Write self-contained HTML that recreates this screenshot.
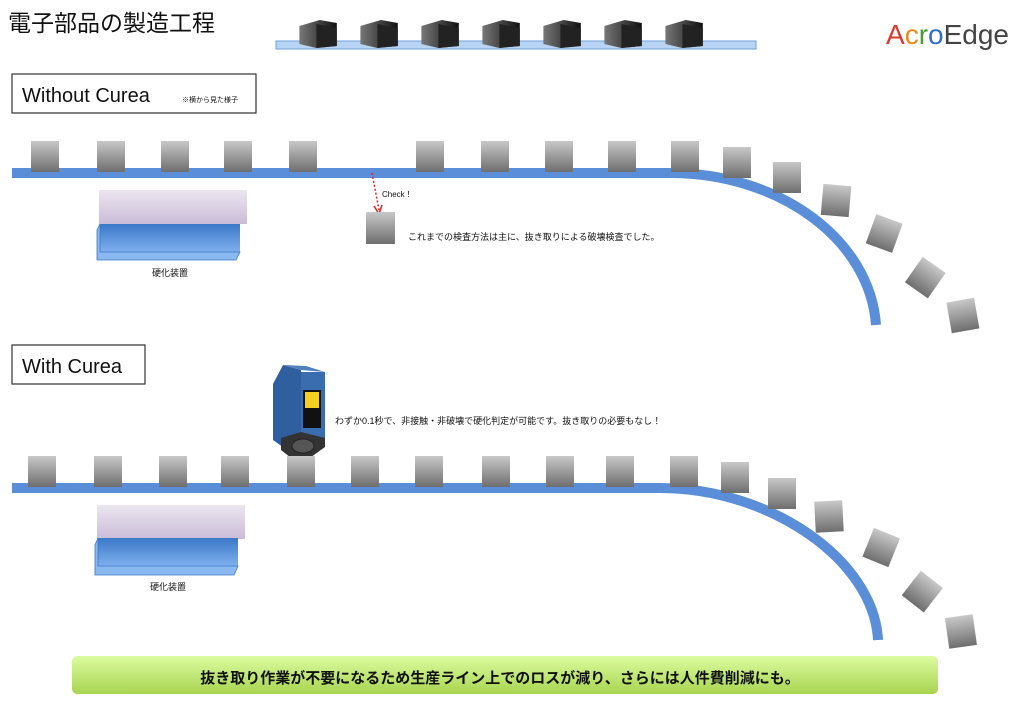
<!DOCTYPE html>
<html><head><meta charset="utf-8"><style>
body{margin:0;background:#fff}
svg{display:block}
text{font-family:"Liberation Sans","Noto Sans CJK JP",sans-serif;fill:#111}
</style></head><body>
<svg width="1024" height="717" viewBox="0 0 1024 717" xmlns="http://www.w3.org/2000/svg">
<defs>
<linearGradient id="chip" x1="0" y1="0" x2="0" y2="1"><stop offset="0" stop-color="#c8c8c8"/><stop offset="1" stop-color="#6e6e6e"/></linearGradient>
<linearGradient id="pur" x1="0" y1="0" x2="0" y2="1"><stop offset="0" stop-color="#ece6f0"/><stop offset="1" stop-color="#c9bcd8"/></linearGradient>
<linearGradient id="blu" x1="0" y1="0" x2="0" y2="1"><stop offset="0" stop-color="#3b78c8"/><stop offset="1" stop-color="#7fb0ee"/></linearGradient>
<linearGradient id="grn" x1="0" y1="0" x2="0" y2="1"><stop offset="0" stop-color="#dcfca0"/><stop offset="1" stop-color="#a8d450"/></linearGradient>
<linearGradient id="blk" x1="0" y1="0" x2="1" y2="0"><stop offset="0" stop-color="#777"/><stop offset="1" stop-color="#111"/></linearGradient>
<g id="c"><rect x="0" y="0" width="28" height="31" fill="url(#chip)"/></g>
<g id="bc"><path d="M2,6 L14,0 L24,3 L24,26 L12,28 L2,24Z" fill="url(#blk)"/><path d="M12,4 L24,8 L24,26 L12,28Z" fill="#222"/></g>
</defs>
<text x="8" y="31" font-size="23">電子部品の製造工程</text>
<rect x="276" y="41" width="480" height="8" fill="#b8d4f4" stroke="#6f9fd8"/>
<g transform="translate(296,20) scale(1.7,1)"><use href="#bc"/></g>
<g transform="translate(357,20) scale(1.7,1)"><use href="#bc"/></g>
<g transform="translate(418,20) scale(1.7,1)"><use href="#bc"/></g>
<g transform="translate(479,20) scale(1.7,1)"><use href="#bc"/></g>
<g transform="translate(540,20) scale(1.7,1)"><use href="#bc"/></g>
<g transform="translate(601,20) scale(1.7,1)"><use href="#bc"/></g>
<g transform="translate(662,20) scale(1.7,1)"><use href="#bc"/></g>
<text x="886" y="44" font-size="28"><tspan fill="#d93a2b">A</tspan><tspan fill="#e98a1a">c</tspan><tspan fill="#4a9a3a">r</tspan><tspan fill="#2f6fc0">o</tspan><tspan fill="#444">Edge</tspan></text>

<rect x="12" y="74" width="244" height="39" fill="#fff" stroke="#333" stroke-width="1.2"/>
<text x="22" y="102" font-size="20">Without Curea</text>
<text x="182" y="102" font-size="7">※横から見た様子</text>
<path d="M12,173 H670 C780,173 870,240 876,325" fill="none" stroke="#5b8ed8" stroke-width="10"/>
<g>
<use href="#c" x="31" y="141"/><use href="#c" x="97" y="141"/><use href="#c" x="161" y="141"/><use href="#c" x="224" y="141"/><use href="#c" x="289" y="141"/><use href="#c" x="416" y="141"/><use href="#c" x="481" y="141"/><use href="#c" x="545" y="141"/><use href="#c" x="608" y="141"/><use href="#c" x="671" y="141"/>
<use href="#c" x="723" y="147"/><use href="#c" x="773" y="162"/>
<g transform="translate(836,201) rotate(5)"><use href="#c" x="-14" y="-16"/></g>
<g transform="translate(884,234) rotate(20)"><use href="#c" x="-14" y="-16"/></g>
<g transform="translate(925,278) rotate(35)"><use href="#c" x="-14" y="-16"/></g>
<g transform="translate(963,316) rotate(-10)"><use href="#c" x="-14" y="-16"/></g>
</g>
<path d="M372,173 L379,210" stroke="#e02020" stroke-width="1.5" stroke-dasharray="2,2"/>
<path d="M374,206 L379,214 L382,205" fill="none" stroke="#e02020" stroke-width="1.5"/>
<text x="382" y="197" font-size="8">Check！</text>
<rect x="366" y="212" width="29" height="32" fill="url(#chip)"/>
<text x="408" y="240" font-size="9">これまでの検査方法は主に、抜き取りによる破壊検査でした。</text>
<rect x="99" y="190" width="148" height="34" fill="url(#pur)"/>
<rect x="100" y="224" width="140" height="28" fill="url(#blu)"/>
<path d="M100,224 L97,230 L97,260 L236,260 L240,252 L100,252Z" fill="#8ab8f0" stroke="#3b78c8" stroke-width="0.8"/>
<text x="152" y="276" font-size="9">硬化装置</text>

<rect x="12" y="345" width="133" height="39" fill="#fff" stroke="#333" stroke-width="1.2"/>
<text x="22" y="373" font-size="20">With Curea</text>
<g>
<path d="M273,384 L283,365 L301,370 L301,445 L290,452 L273,440Z" fill="#2f5f9e"/>
<path d="M283,365 L301,370 L325,372 L306,366Z" fill="#4f80c0"/>
<rect x="301" y="372" width="24" height="66" fill="#3a6db0"/>
<rect x="303" y="390" width="18" height="38" fill="#111"/>
<path d="M305,392 L319,392 L319,408 L305,408Z" fill="#f4d020"/>
<path d="M281,438 L301,432 L325,438 L325,447 L300,465 L281,450Z" fill="#333"/>
<ellipse cx="303" cy="446" rx="11" ry="7" fill="#555" stroke="#222"/>
</g>
<text x="335" y="424" font-size="9">わずか0.1秒で、非接触・非破壊で硬化判定が可能です。抜き取りの必要もなし！</text>
<path d="M12,488 H660 C770,488 874,560 878,640" fill="none" stroke="#5b8ed8" stroke-width="10"/>
<g>
<use href="#c" x="28" y="456"/><use href="#c" x="94" y="456"/><use href="#c" x="159" y="456"/><use href="#c" x="221" y="456"/><use href="#c" x="287" y="456"/><use href="#c" x="351" y="456"/><use href="#c" x="415" y="456"/><use href="#c" x="482" y="456"/><use href="#c" x="546" y="456"/><use href="#c" x="606" y="456"/><use href="#c" x="670" y="456"/>
<use href="#c" x="721" y="462"/><use href="#c" x="768" y="478"/>
<g transform="translate(829,517) rotate(-3)"><use href="#c" x="-14" y="-16"/></g>
<g transform="translate(881,548) rotate(22)"><use href="#c" x="-14" y="-16"/></g>
<g transform="translate(922,592) rotate(38)"><use href="#c" x="-14" y="-16"/></g>
<g transform="translate(961,632) rotate(-8)"><use href="#c" x="-14" y="-16"/></g>
</g>
<rect x="97" y="505" width="148" height="34" fill="url(#pur)"/>
<rect x="98" y="538" width="140" height="28" fill="url(#blu)"/>
<path d="M98,538 L95,545 L95,575 L234,575 L238,566 L98,566Z" fill="#8ab8f0" stroke="#3b78c8" stroke-width="0.8"/>
<text x="150" y="590" font-size="9">硬化装置</text>

<rect x="72" y="656" width="866" height="38" rx="5" fill="url(#grn)"/>
<text x="500" y="683" font-size="15" font-weight="bold" text-anchor="middle">抜き取り作業が不要になるため生産ライン上でのロスが減り、さらには人件費削減にも。</text>
</svg>
</body></html>
